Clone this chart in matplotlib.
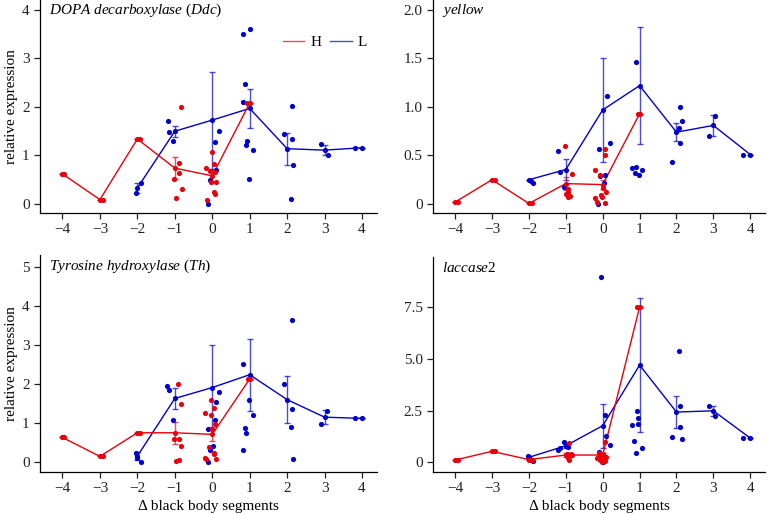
import matplotlib
matplotlib.use("Agg")
import matplotlib.pyplot as plt
from matplotlib.lines import Line2D

plt.rcParams['font.family'] = ['Liberation Serif', 'DejaVu Serif']
plt.rcParams['mathtext.fontset'] = 'custom'
plt.rcParams['mathtext.rm'] = 'Liberation Serif'
plt.rcParams['mathtext.it'] = 'Liberation Serif:italic'
plt.rcParams['font.size'] = 11

RED = '#e8000b'
BLUE = '#0000cd'
FS = 11

# ---------------- DATA ----------------
segments = [-4, -3, -2, -1, 0, 1, 2, 3, 4]

# Ddc
ddc_H_x = [-4, -3, -2, -1, 0, 1]
ddc_H_mean = [0.62, 0.09, 1.34, 0.74, 0.58, 2.08]
ddc_H_se = [0, 0, 0, 0.23, 0.12, 0]
ddc_H_px = [-3.95, -2.92, -1.93, -0.83, -0.88, -0.88, -1.02, -0.82, -0.96,
            0.0, -0.18, -0.05, 0.06, 0.07, -0.04, 0.11, 0.04, 0.07, -0.15, 0.94]
ddc_H_py = [0.62, 0.09, 1.34, 2.0, 0.84, 0.64, 0.52, 0.30, 0.12,
            1.07, 0.74, 0.69, 0.82, 0.65, 0.46, 0.45, 0.25, 0.21, 0.08, 2.08]
ddc_L_x = [-2, -1, 0, 1, 2, 3, 4]
ddc_L_mean = [0.33, 1.5, 1.73, 1.97, 1.14, 1.11, 1.16]
ddc_L_se = [0.1, 0.11, 1.0, 0.4, 0.33, 0.11, 0]
ddc_L_px = [-2.04, -1.91, -1.19, -1.16, -1.04, 0.19, 0.08, 0.11, -0.05, -0.12,
            0.81, 1.0, 0.88, 0.82, 0.93, 0.9, 1.08, 0.98,
            1.92, 2.13, 2.12, 2.17, 2.11, 2.9, 3.08, 3.81]
ddc_L_py = [0.22, 0.43, 1.72, 1.49, 1.30, 1.5, 1.27, 0.71, 0.49, 0.0,
            3.5, 3.6, 2.47, 2.1, 1.29, 1.21, 1.12, 0.52,
            1.44, 1.35, 2.02, 0.8, 0.1, 1.23, 1.0, 1.16]

# yellow
yel_H_x = [-4, -3, -2, -1, 0, 1]
yel_H_mean = [0.02, 0.25, 0.005, 0.21, 0.2, 0.93]
yel_H_se = [0, 0, 0, 0.07, 0.05, 0]
yel_H_px = [-3.93, -2.91, -1.91, -1.02, -0.84, -0.93, -0.95, -0.99, -0.88, -0.93,
            0.05, 0.05, -0.2, -0.08, 0.02, 0.08, -0.04, -0.01, -0.2, -0.15, 0.06, 0.95]
yel_H_py = [0.02, 0.25, 0.005, 0.6, 0.31, 0.15, 0.12, 0.1, 0.08, 0.07,
            0.57, 0.5, 0.35, 0.3, 0.16, 0.12, 0.09, 0.07, 0.06, 0.02, 0.01, 0.93]
yel_L_x = [-2, -1, 0, 1, 2, 3, 4]
yel_L_mean = [0.25, 0.355, 0.97, 1.22, 0.74, 0.81, 0.51]
yel_L_se = [0, 0.11, 0.54, 0.6, 0.095, 0.105, 0]
yel_L_px = [-1.95, -1.88, -1.2, -1.16, -1.05, 0.11, 0.19, -0.11, 0.07, -0.07, 0.03, -0.14,
            0.9, 0.8, 0.89, 0.87, 0.98, 1.06,
            2.1, 2.14, 2.08, 2.1, 1.89, 3.05, 2.89, 3.8]
yel_L_py = [0.24, 0.22, 0.55, 0.33, 0.18, 1.11, 0.63, 0.57, 0.3, 0.29, 0.22, 0.0,
            1.46, 0.37, 0.38, 0.32, 0.3, 0.35,
            1.0, 0.86, 0.78, 0.63, 0.43, 0.91, 0.7, 0.51]

# Th
th_H_x = [-4, -3, -2, -1, 0, 1]
th_H_mean = [0.63, 0.145, 0.75, 0.75, 0.71, 2.13]
th_H_se = [0, 0, 0, 0.28, 0.18, 0]
th_H_px = [-3.95, -2.92, -1.93, -0.91, -0.83, -1.02, -0.9, -0.83, -0.98, -0.89,
           -0.03, -0.19, -0.04, 0.05, 0.07, 0.0, -0.1, -0.17, -0.19, 0.04, 0.06, 0.09, 0.95]
th_H_py = [0.63, 0.145, 0.75, 2.01, 1.5, 0.59, 0.59, 0.41, 0.03, 0.04,
           1.59, 1.27, 1.2, 1.39, 0.97, 0.85, 0.38, 0.07, 0.1, 0.22, 0.2, 0.07, 2.13]
th_L_x = [-2, -1, 0, 1, 2, 3, 4]
th_L_mean = [0.15, 1.63, 1.91, 2.24, 1.6, 1.15, 1.12]
th_L_se = [0.11, 0.28, 1.08, 0.92, 0.6, 0.18, 0]
th_L_px = [-2.03, -2.01, -1.9, -1.2, -1.16, -1.04, 0.19, 0.11, 0.08, -0.12, 0.03, -0.06, -0.12,
           0.82, 0.98, 1.08, 0.88, 0.9, 0.81,
           2.12, 1.91, 2.12, 2.11, 2.16, 3.06, 2.9, 3.81]
th_L_py = [0.22, 0.1, 0.01, 1.95, 1.85, 1.08, 1.79, 1.54, 1.08, 0.85, 0.41, 0.31, 0.0,
           2.52, 1.6, 1.2, 0.86, 0.74, 0.32,
           3.63, 1.99, 1.37, 0.9, 0.09, 1.32, 0.97, 1.12]

# laccase2
lac_H_x = [-4, -3, -2, -1, 0, 1]
lac_H_mean = [0.11, 0.53, 0.13, 0.35, 0.35, 7.5]
lac_H_se = [0, 0, 0, 0.08, 0.08, 0]
lac_H_px = [-3.93, -2.91, -1.91, -0.9, -0.98, -0.85, -0.92, -0.95, -0.9, -0.82,
            0.05, -0.1, 0.0, -0.05, 0.08, -0.15, 0.02, -0.08, 0.06, -0.03, 0.93]
lac_H_py = [0.11, 0.53, 0.13, 0.92, 0.42, 0.38, 0.3, 0.2, 0.1, 0.35,
            0.96, 0.45, 0.4, 0.3, 0.25, 0.2, 0.15, 0.1, 0.05, 0.02, 7.5]
lac_L_x = [-2, -1, 0, 1, 2, 3, 4]
lac_L_mean = [0.24, 0.8, 1.77, 4.7, 2.43, 2.49, 1.17]
lac_L_se = [0.08, 0.1, 1.06, 3.25, 0.79, 0.23, 0]
lac_L_px = [-2.03, -1.93, -1.9, -1.04, -1.2, -1.16, -0.95,
            -0.04, 0.07, 0.08, 0.19, -0.11, 0.0, -0.05,
            0.92, 0.97, 0.96, 0.8, 0.86, 1.06, 0.89,
            2.08, 2.1, 2.1, 1.89, 2.14, 2.89, 3.05, 3.8]
lac_L_py = [0.3, 0.11, 0.08, 1.0, 0.58, 0.69, 0.75,
            8.95, 2.3, 1.27, 0.82, 0.5, 0.0, 0.2,
            2.46, 2.14, 1.87, 1.82, 1.03, 0.71, 0.47,
            5.37, 2.73, 1.72, 1.22, 1.14, 2.73, 2.22, 1.17]

panels = [
    dict(title=r'$\mathit{DOPA\ decarboxylase}$ ($\mathit{Ddc}$)',
         H=(ddc_H_x, ddc_H_mean, ddc_H_se, ddc_H_px, ddc_H_py),
         L=(ddc_L_x, ddc_L_mean, ddc_L_se, ddc_L_px, ddc_L_py),
         yticks=[0, 1, 2, 3, 4], ylabels=['0', '1', '2', '3', '4'], ylim=(-0.186, 4.206),
         rect=(40, 0, 377, 213)),
    dict(title=r'$\mathit{yellow}$',
         H=(yel_H_x, yel_H_mean, yel_H_se, yel_H_px, yel_H_py),
         L=(yel_L_x, yel_L_mean, yel_L_se, yel_L_px, yel_L_py),
         yticks=[0, 0.5, 1.0, 1.5, 2.0], ylabels=['0', '0.5', '1.0', '1.5', '2.0'], ylim=(-0.093, 2.103),
         rect=(433, 0, 765, 213)),
    dict(title=r'$\mathit{Tyrosine\ hydroxylase}$ ($\mathit{Th}$)',
         H=(th_H_x, th_H_mean, th_H_se, th_H_px, th_H_py),
         L=(th_L_x, th_L_mean, th_L_se, th_L_px, th_L_py),
         yticks=[0, 1, 2, 3, 4, 5], ylabels=['0', '1', '2', '3', '4', '5'], ylim=(-0.256, 5.31),
         rect=(40, 255, 377, 472)),
    dict(title=r'$\mathit{laccase2}$',
         H=(lac_H_x, lac_H_mean, lac_H_se, lac_H_px, lac_H_py),
         L=(lac_L_x, lac_L_mean, lac_L_se, lac_L_px, lac_L_py),
         yticks=[0, 2.5, 5.0, 7.5], ylabels=['0', '2.5', '5.0', '7.5'], ylim=(-0.47, 9.93),
         rect=(433, 257, 765, 472)),
]

W, H = 771, 514
fig = plt.figure(figsize=(W / 100, H / 100), dpi=100)

for i, p in enumerate(panels):
    l, t, r, b = p['rect']
    ax = fig.add_axes([l / W, 1 - b / H, (r - l) / W, (b - t) / H])
    for key, col in (('L', BLUE), ('H', RED)):
        gx, gm, gse, px, py = p[key]
        ax.scatter(px, py, s=14, color=col, linewidths=0, zorder=3)
        ax.plot(gx, gm, color=col, lw=1.0, zorder=2)
        ax.scatter(gx, gm, s=14, color=col, linewidths=0, zorder=3)
        ax.errorbar(gx, gm, yerr=gse, fmt='none', ecolor=col, alpha=0.7,
                    elinewidth=1.0, capsize=2.5, capthick=1.0, zorder=2)
    ax.set_xlim(-4.6, 4.4)
    ax.set_ylim(*p['ylim'])
    ax.set_xticks(segments)
    ax.set_xticklabels(['\u2212' + str(-v) if v < 0 else str(v) for v in segments])
    ax.set_yticks(p['yticks'])
    ax.set_yticklabels(p['ylabels'])
    for s in ('top', 'right'):
        ax.spines[s].set_visible(False)
    for s in ('left', 'bottom'):
        ax.spines[s].set_linewidth(0.9)
    ax.tick_params(direction='out', length=4, width=0.9, labelsize=FS, colors='#222222')
    ax.text(0.027, 0.95, p['title'], transform=ax.transAxes, ha='left', va='center', fontsize=FS)
    if i in (0, 2):
        ax.set_ylabel('relative expression', fontsize=FS, labelpad=3)
    if i in (2, 3):
        ax.set_xlabel('\u0394 black body segments', fontsize=FS, labelpad=3)
    if i == 0:
        handles = [Line2D([], [], color=RED, lw=1.0, alpha=0.7),
                   Line2D([], [], color=BLUE, lw=1.0, alpha=0.7)]
        ax.legend(handles, ['H', 'L'], loc='center left', bbox_to_anchor=(0.72, 0.80),
                  ncol=2, frameon=False, handlelength=1.4, handletextpad=0.4,
                  columnspacing=0.6, fontsize=FS, borderaxespad=0, borderpad=0)

fig.savefig('out.png', dpi=100)
